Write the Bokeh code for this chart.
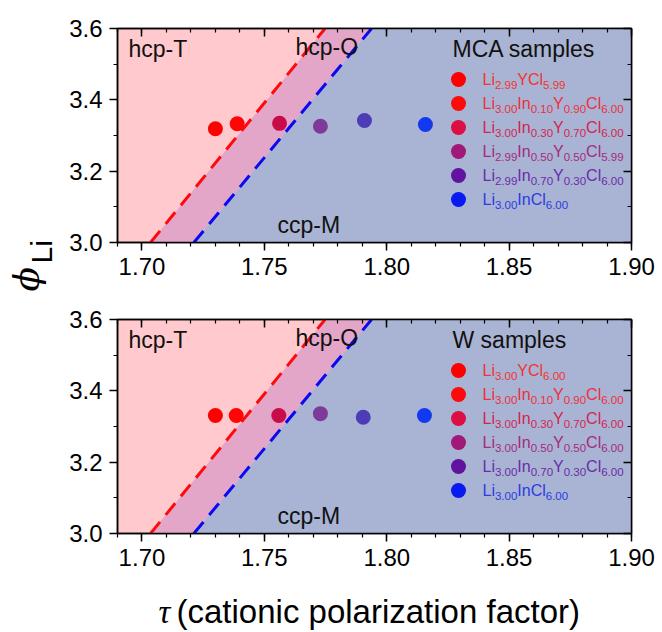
import re
import numpy as np
from bokeh.plotting import figure
from bokeh.layouts import row, column
from bokeh.models import (Range1d, LinearAxis, FixedTicker, NumeralTickFormatter,
                          CustomJSTickFormatter)
from bokeh.core.properties import value
from bokeh.embed import file_html
from bokeh.resources import INLINE

# ---------------- data ----------------
tau_range = [1.69, 1.90]
phi_range = [3.0, 3.6]
tau_major_ticks = [1.70, 1.75, 1.80, 1.85, 1.90]
tau_minor_ticks = [round(1.69 + 0.01 * k, 2) for k in range(22)]
phi_major_ticks = [3.0, 3.2, 3.4, 3.6]
phi_minor_ticks = [3.1, 3.3, 3.5]

mca_title = "MCA samples"
mca_labels = ["Li_{2.99}YCl_{5.99}", "Li_{3.00}In_{0.10}Y_{0.90}Cl_{6.00}",
              "Li_{3.00}In_{0.30}Y_{0.70}Cl_{6.00}", "Li_{2.99}In_{0.50}Y_{0.50}Cl_{5.99}",
              "Li_{2.99}In_{0.70}Y_{0.30}Cl_{6.00}", "Li_{3.00}InCl_{6.00}"]
mca_tau = [1.7300, 1.7389, 1.7562, 1.7729, 1.7909, 1.8158]
mca_phi = [3.319, 3.333, 3.334, 3.326, 3.342, 3.331]

w_title = "W samples"
w_labels = ["Li_{3.00}YCl_{6.00}", "Li_{3.00}In_{0.10}Y_{0.90}Cl_{6.00}",
            "Li_{3.00}In_{0.30}Y_{0.70}Cl_{6.00}", "Li_{3.00}In_{0.50}Y_{0.50}Cl_{6.00}",
            "Li_{3.00}In_{0.70}Y_{0.30}Cl_{6.00}", "Li_{3.00}InCl_{6.00}"]
w_tau = [1.7300, 1.7385, 1.7559, 1.7729, 1.7904, 1.8154]
w_phi = [3.331, 3.331, 3.331, 3.336, 3.326, 3.331]

legend_marker_colors = ["#FF0000", "#FF0A0A", "#DC0E44", "#A01878", "#62129F", "#0A18F2"]
point_colors = ["#FF0000", "#FF0505", "#C80C4A", "#7E3A98", "#4C3CB6", "#1238F2"]
label_colors = ["#F03434", "#EC3040", "#D42452", "#A42A82", "#6A2CA8", "#2C3CE0"]

# phase boundaries (tau at phi = 3.0 and phi = 3.6)
boundary_phi = [3.0, 3.6]
hcpT_hcpO_tau = [1.7035, 1.7748]
hcpO_ccpM_tau = [1.7212, 1.7938]

region_names = ["hcp-T", "hcp-O", "ccp-M"]

# ---------------- style / layout ----------------
PINK = "#FFC9CE"
BAND = "#E3A6C8"
BLUEGRAY = "#A9B3D3"
FONT = "Liberation Sans"
SHIFT = 0.36   # renderer places the text baseline this fraction of the font size lower

LEFT_W = 58
PANEL_W = 604
FRAME_W = 514
FRAME_H = 214
MB_LEFT = 59
MB_RIGHT = 31
FRAME_X0 = LEFT_W + MB_LEFT          # 117
FRAME_X1 = FRAME_X0 + FRAME_W        # 631

ARIAL_W = {'L': 556, 'i': 222, 'Y': 667, 'C': 722, 'l': 222, 'I': 278, 'n': 556, '.': 278}
for d in "0123456789":
    ARIAL_W[d] = 556


def text_width(s, size):
    return sum(ARIAL_W.get(c, 556) for c in s) * size / 1000.0


def px2x(dx):
    return tau_range[0] + dx / FRAME_W * (tau_range[1] - tau_range[0])


def px2y(dy):
    # dy: pixels below the frame top
    return phi_range[1] - dy / FRAME_H * (phi_range[1] - phi_range[0])


def base(dy, size):
    # pixel position of a text anchor so that its baseline lands at dy
    return dy - SHIFT * size


def style_axis(ax, major, minor, fmt, inside):
    ax.ticker = FixedTicker(ticks=major, minor_ticks=minor)
    ax.axis_line_width = 1.5
    ax.axis_line_color = "black"
    ax.major_tick_line_width = 1.5
    ax.minor_tick_line_width = 1.2
    ax.major_tick_line_color = "black"
    ax.minor_tick_line_color = "black"
    ax.major_label_text_font = FONT
    ax.major_label_text_color = "black"
    if inside:
        ax.formatter = CustomJSTickFormatter(code="return ''")
        ax.major_tick_in, ax.major_tick_out = 8, 0
        ax.minor_tick_in, ax.minor_tick_out = 4, 0
        ax.major_label_standoff = 0
    else:
        ax.formatter = NumeralTickFormatter(format=fmt)
        ax.major_tick_in, ax.major_tick_out = 0, 8
        ax.minor_tick_in, ax.minor_tick_out = 0, 4
        ax.major_label_text_font_size = "24px"
        ax.major_label_standoff = 7


def make_panel(height, mb_top, mb_bottom, title, labels, tau, phi):
    p = figure(width=PANEL_W, height=height,
               x_range=Range1d(*tau_range), y_range=Range1d(*phi_range),
               output_backend="svg", toolbar_location=None,
               min_border_left=MB_LEFT, min_border_right=MB_RIGHT,
               min_border_top=mb_top, min_border_bottom=mb_bottom,
               background_fill_color=PINK, border_fill_color="white",
               outline_line_color="black", outline_line_width=1.5)
    p.xgrid.visible = False
    p.ygrid.visible = False

    # regions
    p.patch(x=[hcpT_hcpO_tau[0], hcpT_hcpO_tau[1], hcpO_ccpM_tau[1], hcpO_ccpM_tau[0]],
            y=[boundary_phi[0], boundary_phi[1], boundary_phi[1], boundary_phi[0]],
            fill_color=BAND, line_color=None)
    p.patch(x=[hcpO_ccpM_tau[0], hcpO_ccpM_tau[1], tau_range[1], tau_range[1]],
            y=[boundary_phi[0], boundary_phi[1], boundary_phi[1], boundary_phi[0]],
            fill_color=BLUEGRAY, line_color=None)
    p.line(hcpT_hcpO_tau, boundary_phi, line_color="#FF0A0A", line_width=3, line_dash="15 9")
    p.line(hcpO_ccpM_tau, boundary_phi, line_color="#0A0AF0", line_width=3, line_dash="15 9")

    # region labels
    RS = 23
    p.text(x=[px2x(11), px2x(178), px2x(160)],
           y=[px2y(base(29, RS)), px2y(base(27, RS)), px2y(base(FRAME_H - 9, RS))],
           text=region_names, text_font=value(FONT), text_font_size=f"{RS}px",
           text_color="#111111", text_align="left", text_baseline="alphabetic")

    # data points
    p.scatter(tau, phi, size=15, fill_color=point_colors, line_color=None)

    # legend
    p.text(x=[px2x(335)], y=[px2y(base(29, RS))], text=[title], text_font=value(FONT),
           text_font_size=f"{RS}px", text_color="#111111", text_align="left",
           text_baseline="alphabetic")
    mk_x, mk_y = [], []
    mx, my, mt, mc = [], [], [], []
    sx, sy, st, sc = [], [], [], []
    F, FS = 16, 11.5
    for i, lab in enumerate(labels):
        ry = 51 + 24 * i
        mk_x.append(px2x(341))
        mk_y.append(px2y(ry))
        xcur = 365.0
        for sub, main in re.findall(r'_\{([^}]*)\}|([^_]+)', lab):
            if main:
                mx.append(px2x(xcur)); my.append(px2y(base(ry + 6, F)))
                mt.append(main); mc.append(label_colors[i])
                xcur += text_width(main, F)
            else:
                sx.append(px2x(xcur)); sy.append(px2y(base(ry + 10, FS)))
                st.append(sub); sc.append(label_colors[i])
                xcur += text_width(sub, FS)
    p.scatter(mk_x, mk_y, size=15, fill_color=legend_marker_colors, line_color=None)
    p.text(x=mx, y=my, text=mt, text_color=mc, text_font=value(FONT), text_font_size=f"{F}px",
           text_align="left", text_baseline="alphabetic")
    p.text(x=sx, y=sy, text=st, text_color=sc, text_font=value(FONT), text_font_size=f"{FS}px",
           text_align="left", text_baseline="alphabetic")

    # axes
    style_axis(p.xaxis[0], tau_major_ticks, tau_minor_ticks, "0.00", False)
    style_axis(p.yaxis[0], phi_major_ticks, phi_minor_ticks, "0.0", False)
    top = LinearAxis()
    right = LinearAxis()
    style_axis(top, tau_major_ticks, tau_minor_ticks, "0.00", True)
    style_axis(right, phi_major_ticks, phi_minor_ticks, "0.0", True)
    p.add_layout(top, "above")
    p.add_layout(right, "right")
    return p


top_p = make_panel(300, 28, 58, mca_title, mca_labels, mca_tau, mca_phi)
bot_p = make_panel(280, 19, 47, w_title, w_labels, w_tau, w_phi)

# y-axis label panel (data units = global screen pixels)
lp = figure(width=LEFT_W, height=632, x_range=Range1d(0, LEFT_W), y_range=Range1d(632, 0),
            output_backend="svg", toolbar_location=None, min_border=0,
            x_axis_location=None, y_axis_location=None, outline_line_color=None)
for g in lp.grid:
    g.visible = False
PHI_S, LI_S = 36, 30
lp.text(x=[39 - SHIFT * PHI_S], y=[291], text=["ϕ"], angle=np.pi / 2,
        text_font=value("DejaVu Serif"), text_font_style="italic",
        text_font_size=f"{PHI_S}px", text_color="black",
        text_align="left", text_baseline="alphabetic")
lp.text(x=[52 - SHIFT * LI_S], y=[263], text=["Li"], angle=np.pi / 2, text_font=value(FONT),
        text_font_size=f"{LI_S}px", text_color="black", text_align="left",
        text_baseline="alphabetic")

# x-axis label panel: its frame is aligned with the plot frames above,
# so the x range is given in global pixels of that frame
XS = 33
xp = figure(width=PANEL_W, height=52, x_range=Range1d(FRAME_X0, FRAME_X1),
            y_range=Range1d(632, 580),
            output_backend="svg", toolbar_location=None, min_border=0,
            min_border_left=MB_LEFT, min_border_right=MB_RIGHT,
            x_axis_location=None, y_axis_location=None, outline_line_color=None)
for g in xp.grid:
    g.visible = False
xp.text(x=[158], y=[623 - SHIFT * XS], text=["τ"], text_font=value("Liberation Serif"),
        text_font_style="italic", text_font_size=f"{XS}px", text_color="black",
        text_align="left", text_baseline="alphabetic")
xp.text(x=[176], y=[623 - SHIFT * XS], text=["(cationic polarization factor)"],
        text_font=value(FONT), text_font_size=f"{XS}px", text_color="black",
        text_align="left", text_baseline="alphabetic")

layout = row(lp, column(top_p, bot_p, xp, spacing=0), spacing=0)
open("out.html", "w").write(file_html(layout, INLINE))
